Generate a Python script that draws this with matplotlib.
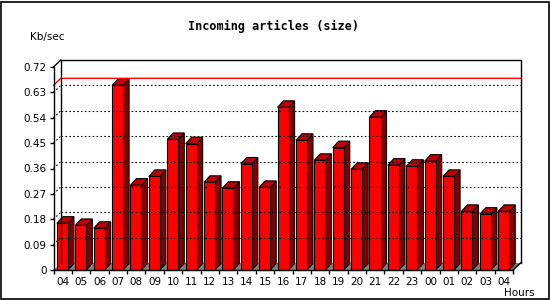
import matplotlib
matplotlib.use("Agg")
import matplotlib.pyplot as plt
from matplotlib.patches import Rectangle, Polygon

hours = ["04", "05", "06", "07", "08", "09", "10", "11", "12", "13", "14", "15", "16",
         "17", "18", "19", "20", "21", "22", "23", "00", "01", "02", "03", "04"]
kb_sec = [0.166, 0.158, 0.148, 0.655, 0.301, 0.332, 0.463, 0.448, 0.311, 0.290, 0.376, 0.293,
          0.577, 0.460, 0.389, 0.434, 0.357, 0.542, 0.372, 0.368, 0.386, 0.332, 0.208, 0.198, 0.208]
y_ticks = [0, 0.09, 0.18, 0.27, 0.36, 0.45, 0.54, 0.63, 0.72]
y_labels = ["0", "0.09", "0.18", "0.27", "0.36", "0.45", "0.54", "0.63", "0.72"]

W, H = 550, 300
fig = plt.figure(figsize=(5.5, 3), dpi=100)
fig.patch.set_facecolor("white")
fig.patches.append(Rectangle((1 / W, 1 / H), 547.5 / W, 297 / H, transform=fig.transFigure,
                             fill=False, edgecolor="black", linewidth=1.2))

ax = fig.add_axes([53.5 / W, 30 / H, 459.7 / W, 203 / H])
n = len(hours)
ymax = 0.72
ax.set_xlim(0, n)
ax.set_ylim(0, ymax)
ax.patch.set_alpha(0)

# 3d depth of the back plane and of the bars, in data units
px_x = n / 459.7
px_y = ymax / 203
DX, DY = 7.3 * px_x, 7 * px_y
BDX, BDY = 6 * px_x, 6.5 * px_y

kw = dict(clip_on=False)
# gridlines on the back wall and side wall
for v in y_ticks[1:-1]:
    ax.plot([DX, n + DX], [v + DY, v + DY], color="black", lw=0.8, ls=(0, (1.5, 2)), **kw)
    ax.plot([0, DX], [v, v + DY], color="black", lw=0.8, ls=(0, (1.5, 2)), **kw)

# max line
m = max(kb_sec)
ax.plot([0, DX, n + DX], [m, m + DY, m + DY], color="red", lw=1, **kw)

# frame of the back plane
ax.plot([DX, DX, n + DX, n + DX], [DY, ymax + DY, ymax + DY, DY], color="black", lw=1, **kw)
ax.plot([0, DX], [ymax, ymax + DY], color="black", lw=1, **kw)

# gray floor
ax.add_patch(Polygon([(0, 0), (n, 0), (n + DX, DY), (DX, DY)], closed=True,
                     facecolor="#808080", edgecolor="none", **kw))

# bars
bw = 0.6
for i, v in enumerate(kb_sec):
    x0 = i + 0.185
    x1 = x0 + bw
    front = [(x0, 0), (x1, 0), (x1, v), (x0, v)]
    side = [(x1, 0), (x1 + BDX, BDY), (x1 + BDX, v + BDY), (x1, v)]
    top = [(x0, v), (x1, v), (x1 + BDX, v + BDY), (x0 + BDX, v + BDY)]
    ax.add_patch(Polygon(side, closed=True, facecolor="#800000", edgecolor="black", lw=0.8, **kw))
    ax.add_patch(Polygon(top, closed=True, facecolor="#c00000", edgecolor="black", lw=0.8, **kw))
    ax.add_patch(Polygon(front, closed=True, facecolor="#ff0000", edgecolor="black", lw=0.8, **kw))

ax.plot([n, n + DX], [0, DY], color="black", lw=1, **kw)

for s in ["top", "right"]:
    ax.spines[s].set_visible(False)
for s in ["left", "bottom"]:
    ax.spines[s].set_linewidth(1)
    ax.spines[s].set_zorder(5)

ax.set_yticks(y_ticks)
ax.set_yticklabels(y_labels, fontsize=7.5)
ax.set_xticks(range(n + 1))
ax.set_xticklabels([])
ax.set_xticks([i + 0.5 for i in range(n)], minor=True)
ax.set_xticklabels(hours, minor=True, fontsize=7.5)
ax.tick_params(axis="both", which="major", direction="out", length=3, width=1, pad=2)
ax.tick_params(axis="x", which="minor", length=0, pad=5)

fig.text(273.7 / W, 1 - 26.7 / H, "Incoming articles (size)", ha="center", va="center",
         family="DejaVu Sans Mono", fontweight="bold", fontsize=8.5)
fig.text(30 / W, 1 - 36.7 / H, "Kb/sec", ha="left", va="center", fontsize=7.5)
fig.text(519 / W, 1 - 292.7 / H, "Hours", ha="center", va="center", fontsize=7.5)

fig.savefig("out.png", dpi=100)
